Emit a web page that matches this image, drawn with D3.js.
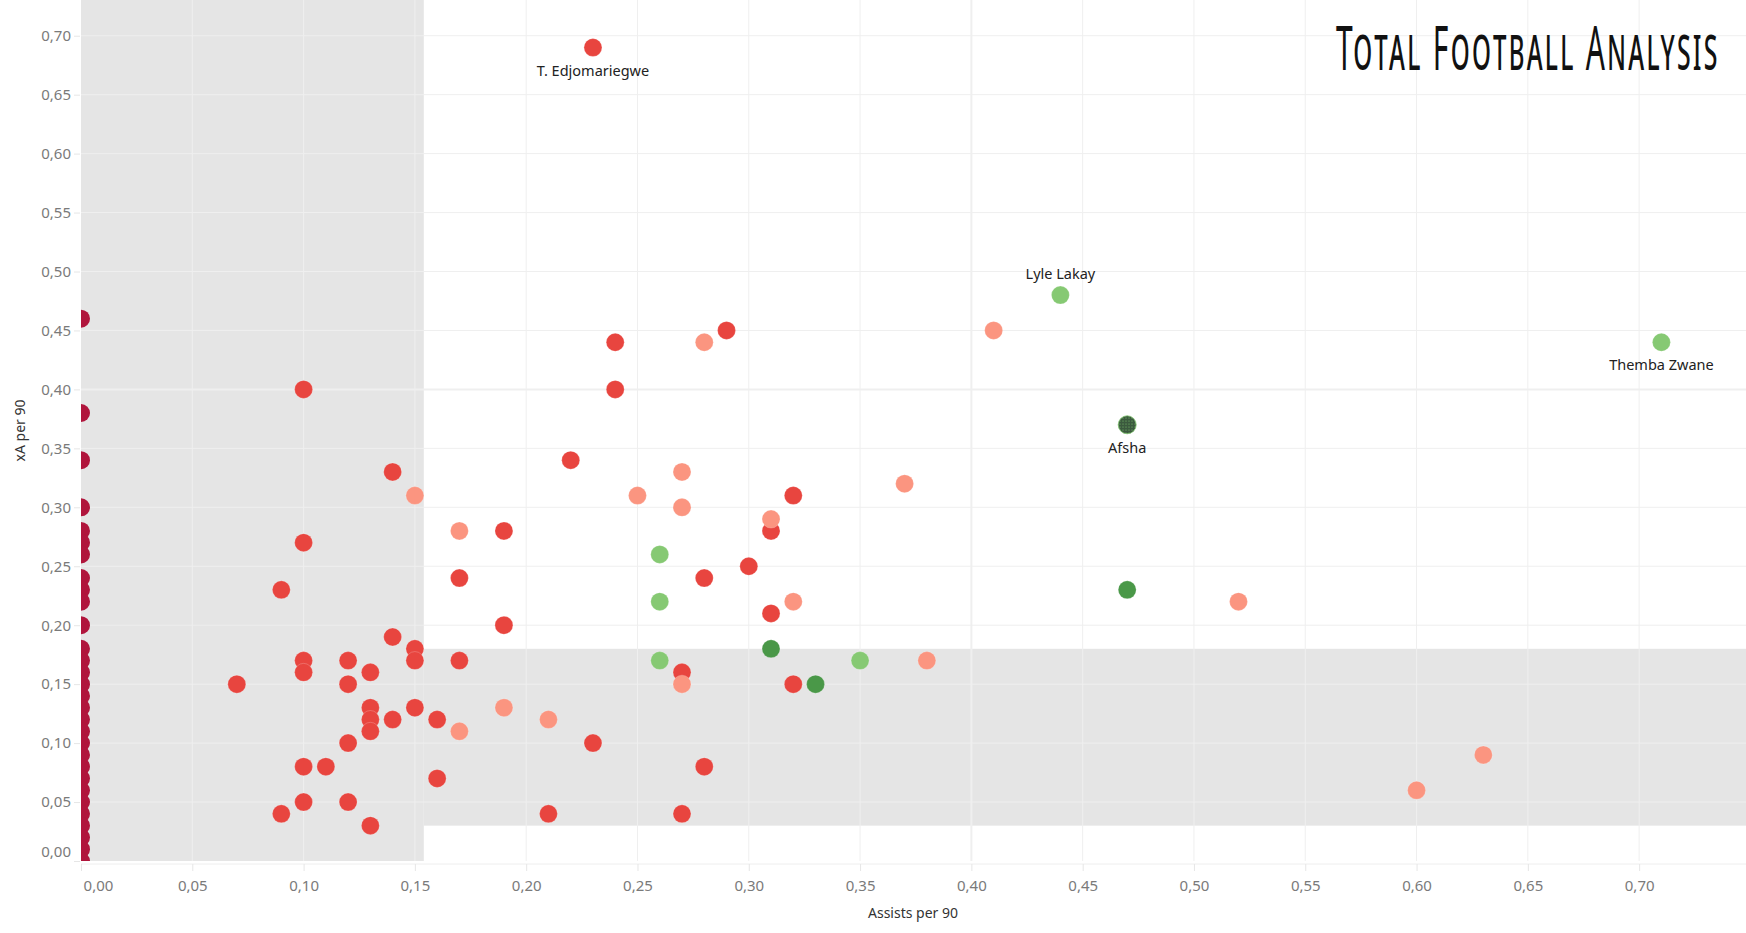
<!DOCTYPE html>
<html>
<head>
<meta charset="utf-8">
<script src="https://cdn.jsdelivr.net/npm/d3@7"></script>
<style>
  body { margin: 0; background: #fff; }
  svg { display: block; }
  text { font-family: "Noto Sans", "Open Sans", sans-serif; }
</style>
</head>
<body>
<svg id="chart"></svg>
<script>
// ---- data ----
// players with 0 assists: only xA per 90
const zeroAssistXa = [0.46, 0.38, 0.34, 0.30, 0.28, 0.27, 0.26, 0.24, 0.23, 0.22, 0.20,
  0.18, 0.17, 0.16, 0.15, 0.14, 0.13, 0.12, 0.11, 0.10, 0.09, 0.08, 0.07, 0.06, 0.05,
  0.04, 0.03, 0.02, 0.01, 0.00];

// [assists per 90, xA per 90]
const redPts = [[0.23, 0.69], [0.24, 0.44], [0.29, 0.45], [0.24, 0.40], [0.10, 0.40],
  [0.22, 0.34], [0.14, 0.33], [0.32, 0.31], [0.19, 0.28], [0.31, 0.28], [0.10, 0.27],
  [0.30, 0.25], [0.09, 0.23], [0.17, 0.24], [0.28, 0.24], [0.31, 0.21], [0.19, 0.20],
  [0.14, 0.19], [0.15, 0.18], [0.10, 0.17], [0.12, 0.17], [0.15, 0.17], [0.17, 0.17],
  [0.10, 0.16], [0.13, 0.16], [0.27, 0.16], [0.07, 0.15], [0.12, 0.15], [0.32, 0.15],
  [0.13, 0.13], [0.15, 0.13], [0.13, 0.12], [0.14, 0.12], [0.16, 0.12], [0.13, 0.11],
  [0.12, 0.10], [0.23, 0.10], [0.10, 0.08], [0.11, 0.08], [0.28, 0.08], [0.16, 0.07],
  [0.10, 0.05], [0.12, 0.05], [0.09, 0.04], [0.21, 0.04], [0.27, 0.04], [0.13, 0.03]];

const salmonPts = [[0.41, 0.45], [0.28, 0.44], [0.27, 0.33], [0.15, 0.31], [0.25, 0.31],
  [0.37, 0.32], [0.27, 0.30], [0.31, 0.29], [0.17, 0.28], [0.32, 0.22], [0.52, 0.22],
  [0.38, 0.17], [0.27, 0.15], [0.19, 0.13], [0.21, 0.12], [0.17, 0.11], [0.63, 0.09],
  [0.60, 0.06]];

const lightGreenPts = [[0.44, 0.48], [0.71, 0.44], [0.26, 0.26], [0.26, 0.22],
  [0.26, 0.17], [0.35, 0.17]];

const darkGreenPts = [[0.47, 0.23], [0.31, 0.18], [0.33, 0.15]];

const afshaPt = [0.47, 0.37];

const labelNames = ["T. Edjomariegwe", "Lyle Lakay", "Themba Zwane", "Afsha"];
const labelPts = [[0.23, 0.69], [0.44, 0.48], [0.71, 0.44], [0.47, 0.37]];
const labelAbove = [false, true, false, false];

const tickVals = d3.range(0, 0.701, 0.05);

// ---- layout ----
const W = 1746, H = 933;
const plot = { left: 81, right: 1746, top: 0, bottom: 861 };

const svg = d3.select("#chart").attr("width", W).attr("height", H);

const x = d3.scaleLinear().domain([0, 0.748]).range([plot.left, plot.right]);
const y = d3.scaleLinear().domain([0, 0.7303]).range([plot.bottom, plot.top]);
const fmt = v => d3.format(".2f")(v).replace(".", ",");

const defs = svg.append("defs");
defs.append("clipPath").attr("id", "plotClip")
  .append("rect")
  .attr("x", plot.left).attr("y", plot.top)
  .attr("width", plot.right - plot.left).attr("height", plot.bottom - plot.top);

// dotted fill for Afsha
const pat = defs.append("pattern").attr("id", "dots")
  .attr("width", 3).attr("height", 3).attr("patternUnits", "userSpaceOnUse");
pat.append("rect").attr("width", 3).attr("height", 3).attr("fill", "#3b5a3e");
pat.append("circle").attr("cx", 1).attr("cy", 1).attr("r", 0.55).attr("fill", "#7fc46d");

// reference bands
const bandColor = "#e5e5e5";
svg.append("rect")
  .attr("x", x(0)).attr("y", plot.top)
  .attr("width", x(0.154) - x(0)).attr("height", plot.bottom - plot.top)
  .attr("fill", bandColor);
svg.append("rect")
  .attr("x", x(0.154)).attr("y", y(0.18))
  .attr("width", plot.right - x(0.154)).attr("height", y(0.03) - y(0.18))
  .attr("fill", bandColor);

// gridlines
svg.append("g").selectAll("line")
  .data(tickVals.slice(1))
  .join("line")
  .attr("x1", d => x(d)).attr("x2", d => x(d))
  .attr("y1", plot.top).attr("y2", plot.bottom)
  .attr("stroke", "#efefef")
  .attr("stroke-width", d => Math.abs(d - 0.40) < 1e-6 ? 2 : 1);

svg.append("g").selectAll("line")
  .data(tickVals.slice(1))
  .join("line")
  .attr("x1", plot.left).attr("x2", plot.right)
  .attr("y1", d => y(d)).attr("y2", d => y(d))
  .attr("stroke", "#efefef")
  .attr("stroke-width", d => Math.abs(d - 0.40) < 1e-6 ? 2 : 1);

// axis lines
svg.append("line")
  .attr("x1", plot.left).attr("x2", plot.right)
  .attr("y1", plot.bottom + 3).attr("y2", plot.bottom + 3)
  .attr("stroke", "#eeeeee");

// y axis
const yAxis = svg.append("g").attr("transform", `translate(${plot.left - 1},0)`)
  .call(d3.axisLeft(y).tickValues(tickVals).tickFormat(fmt).tickSize(6).tickPadding(3));
yAxis.select(".domain").remove();
yAxis.selectAll(".tick line").attr("stroke", "#e6e6e6");
yAxis.selectAll(".tick text")
  .attr("fill", "#7a7a7a").style("font-size", "15px")
  .attr("dy", d => d === 0 ? "-0.3em" : "0.32em");

// x axis
const xAxis = svg.append("g").attr("transform", `translate(0,${plot.bottom + 3})`)
  .call(d3.axisBottom(x).tickValues(tickVals).tickFormat(fmt).tickSize(7).tickPadding(9));
xAxis.select(".domain").remove();
xAxis.selectAll(".tick line").attr("stroke", "#e6e6e6");
xAxis.selectAll(".tick text")
  .attr("fill", "#7a7a7a").style("font-size", "15px")
  .attr("dx", d => d === 0 ? 17 : 0);

// axis titles
svg.append("text")
  .attr("transform", `translate(25,${(plot.top + plot.bottom) / 2}) rotate(-90)`)
  .attr("text-anchor", "middle")
  .attr("fill", "#333").style("font-size", "14px")
  .text("xA per 90");
svg.append("text")
  .attr("x", 913).attr("y", 918)
  .attr("text-anchor", "middle")
  .attr("fill", "#333").style("font-size", "14px")
  .text("Assists per 90");

// marks
const marks = svg.append("g").attr("clip-path", "url(#plotClip)");
const r = 9;

marks.selectAll(".zero")
  .data(zeroAssistXa)
  .join("circle")
  .attr("cx", x(0)).attr("cy", d => y(d)).attr("r", r)
  .attr("fill", "#b0153c");

const groups = [
  { pts: redPts, color: "#e8453f" },
  { pts: salmonPts, color: "#fb9580" },
  { pts: lightGreenPts, color: "#86c973" },
  { pts: darkGreenPts, color: "#4a9848" }
];
groups.forEach(g => {
  marks.append("g").selectAll("circle")
    .data(g.pts)
    .join("circle")
    .attr("cx", d => x(d[0])).attr("cy", d => y(d[1])).attr("r", r)
    .attr("fill", g.color)
    .attr("stroke", "#ffffff").attr("stroke-opacity", 0.35).attr("stroke-width", 0.6);
});

marks.append("circle")
  .attr("cx", x(afshaPt[0])).attr("cy", y(afshaPt[1])).attr("r", r)
  .attr("fill", "url(#dots)")
  .attr("stroke", "#7fc46d").attr("stroke-width", 0.8);

// labels
svg.append("g").selectAll("text")
  .data(labelNames)
  .join("text")
  .attr("x", (d, i) => x(labelPts[i][0]))
  .attr("y", (d, i) => y(labelPts[i][1]) + (labelAbove[i] ? -16 : 28))
  .attr("text-anchor", "middle")
  .attr("fill", "#222").style("font-size", "14.5px")
  .text(d => d);

// logo (small caps give the tall initials), stretched upward
svg.append("text")
  .attr("transform", "translate(1336,70) scale(1,2.05)")
  .attr("font-family", '"Liberation Sans Narrow", "DejaVu Sans Condensed", sans-serif')
  .attr("font-size", 30)
  .style("font-variant", "small-caps")
  .style("letter-spacing", "2.3px")
  .attr("fill", "#111")
  .text("Total Football Analysis");
</script>
</body>
</html>
